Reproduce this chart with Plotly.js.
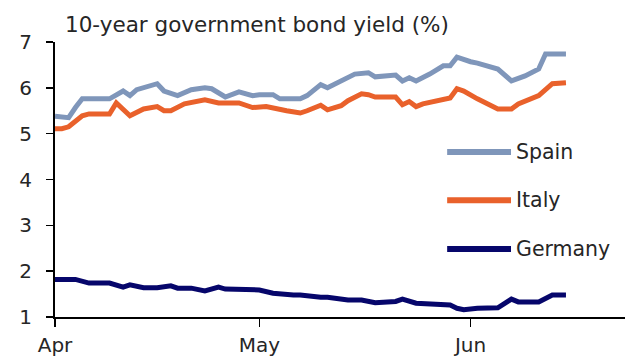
<!DOCTYPE html>
<html>
<head>
<meta charset="utf-8">
<script src="https://cdn.plot.ly/plotly-3.0.1.min.js"></script>
<style>
html,body{margin:0;padding:0;background:#fff;}
#chart{width:625px;height:358px;}
</style>
</head>
<body>
<div id="chart"></div>
<script>
// ---- data ----
const chartTitle = "10-year government bond yield (%)";
const seriesNames = ["Spain", "Italy", "Germany"];
const seriesColors = ["#7f96ba", "#e9612b", "#06066b"];

const spainDates = ["2012-04-01","2012-04-03","2012-04-04","2012-04-05","2012-04-08","2012-04-09","2012-04-11","2012-04-12","2012-04-13","2012-04-16","2012-04-17","2012-04-19","2012-04-21","2012-04-23","2012-04-24","2012-04-26","2012-04-28","2012-04-30","2012-05-01","2012-05-03","2012-05-04","2012-05-07","2012-05-08","2012-05-10","2012-05-11","2012-05-13","2012-05-15","2012-05-17","2012-05-18","2012-05-21","2012-05-22","2012-05-23","2012-05-24","2012-05-26","2012-05-28","2012-05-29","2012-05-30","2012-06-01","2012-06-02","2012-06-05","2012-06-07","2012-06-09","2012-06-11","2012-06-12","2012-06-15"];
const spainValues = [5.38,5.35,5.57,5.76,5.76,5.76,5.93,5.83,5.96,6.09,5.93,5.83,5.96,6.00,5.98,5.80,5.91,5.83,5.85,5.85,5.76,5.76,5.83,6.07,6.00,6.15,6.30,6.33,6.24,6.28,6.15,6.22,6.15,6.30,6.48,6.48,6.67,6.57,6.54,6.41,6.15,6.26,6.41,6.74,6.74];

const italyDates = ["2012-04-01","2012-04-02","2012-04-03","2012-04-05","2012-04-06","2012-04-09","2012-04-10","2012-04-12","2012-04-14","2012-04-16","2012-04-17","2012-04-18","2012-04-20","2012-04-22","2012-04-23","2012-04-25","2012-04-28","2012-04-30","2012-05-02","2012-05-05","2012-05-07","2012-05-08","2012-05-10","2012-05-11","2012-05-13","2012-05-14","2012-05-16","2012-05-17","2012-05-18","2012-05-21","2012-05-22","2012-05-23","2012-05-24","2012-05-25","2012-05-29","2012-05-30","2012-05-31","2012-06-02","2012-06-05","2012-06-07","2012-06-08","2012-06-11","2012-06-13","2012-06-15"];
const italyValues = [5.11,5.11,5.15,5.39,5.43,5.43,5.67,5.39,5.54,5.59,5.50,5.50,5.65,5.70,5.74,5.67,5.67,5.57,5.59,5.50,5.45,5.50,5.62,5.52,5.61,5.72,5.87,5.85,5.80,5.80,5.63,5.70,5.59,5.65,5.78,5.98,5.93,5.76,5.54,5.54,5.65,5.83,6.09,6.11];

const germanyDates = ["2012-04-01","2012-04-04","2012-04-06","2012-04-09","2012-04-11","2012-04-12","2012-04-14","2012-04-16","2012-04-18","2012-04-19","2012-04-21","2012-04-23","2012-04-25","2012-04-26","2012-05-01","2012-05-03","2012-05-06","2012-05-07","2012-05-10","2012-05-11","2012-05-14","2012-05-16","2012-05-18","2012-05-21","2012-05-22","2012-05-24","2012-05-29","2012-05-30","2012-05-31","2012-06-02","2012-06-05","2012-06-07","2012-06-08","2012-06-11","2012-06-13","2012-06-15"];
const germanyValues = [1.82,1.82,1.74,1.74,1.65,1.70,1.64,1.64,1.68,1.63,1.63,1.57,1.65,1.61,1.59,1.52,1.48,1.48,1.43,1.43,1.37,1.37,1.31,1.34,1.39,1.30,1.26,1.19,1.16,1.19,1.20,1.39,1.33,1.33,1.48,1.48];

const xTickDates = ["2012-04-01","2012-05-01","2012-06-01"];
const xTickLabels = ["Apr","May","Jun"];
const yTickValues = [1,2,3,4,5,6,7];
const xRange = ["2012-04-01","2012-06-23 16:00"];
const yRange = [1,7];

// ---- build ----
const allDates = [spainDates, italyDates, germanyDates];
const allValues = [spainValues, italyValues, germanyValues];
const FONT = "DejaVu Sans, Arial, sans-serif";
const TXT = "#262626";

const traces = seriesNames.map((name, i) => ({
  type: "scatter",
  mode: "lines",
  name: name,
  x: allDates[i],
  y: allValues[i],
  line: {color: seriesColors[i], width: 5, shape: "linear"},
  showlegend: false,
  hoverinfo: "x+y+name"
}));

// custom legend (long line samples like the reference)
const legendY = [0.60, 0.425, 0.247];
const shapes = seriesNames.map((name, i) => ({
  type: "line", xref: "paper", yref: "paper",
  x0: 0.688, x1: 0.80, y0: legendY[i], y1: legendY[i],
  line: {color: seriesColors[i], width: 6},
  layer: "above"
}));
const annotations = seriesNames.map((name, i) => ({
  text: name, xref: "paper", yref: "paper",
  x: 0.805, y: legendY[i], xanchor: "left", yanchor: "middle",
  showarrow: false, font: {family: FONT, size: 20.5, color: TXT}
}));

const layout = {
  width: 625, height: 358,
  margin: {l: 55, r: 0, t: 42, b: 41, pad: 0},
  paper_bgcolor: "#ffffff",
  plot_bgcolor: "#ffffff",
  title: {
    text: chartTitle,
    font: {family: FONT, size: 21.5, color: TXT},
    x: 0.104, xanchor: "left", xref: "container",
    y: 0.932, yanchor: "middle", yref: "container"
  },
  xaxis: {
    type: "date",
    range: xRange,
    tickmode: "array", tickvals: xTickDates, ticktext: xTickLabels,
    showgrid: false, zeroline: false,
    showline: true, linecolor: "#000", linewidth: 2,
    ticks: "outside", ticklen: 8, tickwidth: 1.5, tickcolor: "#000",
    ticklabelstandoff: 1,
    tickfont: {family: FONT, size: 20, color: TXT},
    fixedrange: true
  },
  yaxis: {
    range: yRange,
    tickmode: "array", tickvals: yTickValues,
    showgrid: false, zeroline: false,
    showline: true, linecolor: "#000", linewidth: 2,
    ticks: "outside", ticklen: 7, tickwidth: 1.5, tickcolor: "#000",
    ticklabelstandoff: 10,
    tickfont: {family: FONT, size: 20, color: TXT},
    fixedrange: true
  },
  shapes: shapes,
  annotations: annotations,
  showlegend: false
};

Plotly.newPlot("chart", traces, layout, {displayModeBar: false, staticPlot: true});
</script>
</body>
</html>
